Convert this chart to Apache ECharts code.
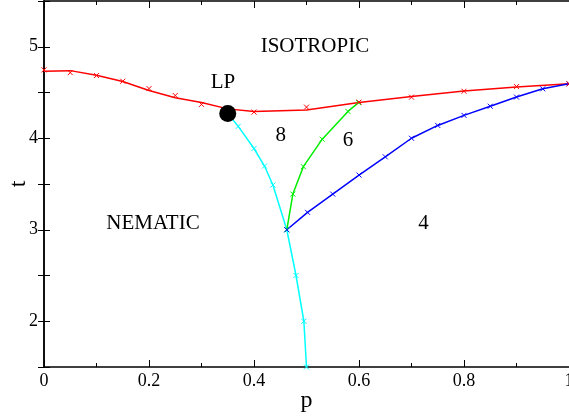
<!DOCTYPE html>
<html>
<head>
<meta charset="utf-8">
<script src="https://cdn.jsdelivr.net/npm/echarts@6/dist/echarts.min.js"></script>
<style>
  html, body { margin: 0; padding: 0; background: #fff; }
  #main { width: 569px; height: 418px; }
</style>
</head>
<body>
<div id="main"></div>
<script>
// phase boundaries, [p, t]
const redFit = [[0, 4.732], [0.05, 4.739], [0.1, 4.688], [0.15, 4.62], [0.2, 4.522], [0.25, 4.442],
  [0.3, 4.391], [0.35, 4.321], [0.4, 4.293], [0.5, 4.31], [0.6, 4.391], [0.7, 4.457],
  [0.8, 4.516], [0.9, 4.56], [1.0, 4.595]];
const redPts = [[0, 4.747], [0.05, 4.717], [0.1, 4.685], [0.15, 4.623], [0.2, 4.543], [0.25, 4.467],
  [0.3, 4.37], [0.4, 4.286], [0.5, 4.34], [0.6, 4.395], [0.7, 4.449], [0.8, 4.514],
  [0.9, 4.565], [1.0, 4.595]];
const cyanPts = [[0.35, 4.27], [0.37, 4.13], [0.4, 3.888], [0.42, 3.696], [0.436, 3.489],
  [0.4625, 3.0], [0.48, 2.5], [0.495, 2.0], [0.5, 1.5]];
const greenPts = [[0.4625, 3.0], [0.474, 3.39], [0.494, 3.69], [0.53, 3.99], [0.579, 4.293], [0.599, 4.39]];
const bluePts = [[0.4625, 3.0], [0.502, 3.19], [0.55, 3.39], [0.6, 3.598], [0.65, 3.797], [0.7, 4.0],
  [0.75, 4.14], [0.8, 4.25], [0.85, 4.35], [0.9, 4.45], [0.95, 4.54], [1.0, 4.595]];
const lpPoint = [[0.35, 4.27]];
const regionNames = ["ISOTROPIC", "LP", "8", "6", "NEMATIC", "4"];
const regionAt = [[0.516, 5.0], [0.341, 4.61], [0.451, 4.027], [0.579, 3.978], [0.2076, 3.07], [0.723, 3.07]];

const serif = "Liberation Serif";
const cross = "path://M0,0L10,10M10,0L0,10";

function curve(data, color, marks) {
  return {
    type: "line",
    data: data,
    symbol: marks ? cross : "none",
    symbolSize: 5,
    lineStyle: { color: color, width: 1.5 },
    itemStyle: { color: "transparent", borderColor: color, borderWidth: 1, opacity: 1 },
    emphasis: { disabled: true },
    silent: true,
    z: 2,
  };
}

const chart = echarts.init(document.getElementById("main"));
const option = {
  animation: false,
  grid: { left: 44, right: 0, top: 1, bottom: 51, containLabel: false, outerBoundsMode: "none" },
  xAxis: [
    {
      type: "value", min: 0, max: 1, interval: 0.2,
      name: "p", nameLocation: "middle", nameGap: 22, nameMoveOverlap: false,
      nameTextStyle: { fontFamily: serif, fontSize: 24, color: "#000" },
      axisLine: { lineStyle: { color: "#000", width: 1.5 } },
      axisTick: { inside: true, length: 7, lineStyle: { color: "#000" } },
      minorTick: { show: true, splitNumber: 2, length: 4, lineStyle: { color: "#000" } },
      axisLabel: {
        fontFamily: serif, fontSize: 18, color: "#000", margin: 5,
        formatter: (v) => String(Math.round(v * 10) / 10),
      },
      splitLine: { show: false },
    },
    {
      type: "value", min: 0, max: 1, interval: 0.2, position: "top",
      axisLine: { lineStyle: { color: "#000", width: 1.5 } },
      axisTick: { inside: true, length: 7, lineStyle: { color: "#000" } },
      minorTick: { show: true, splitNumber: 2, length: 4, lineStyle: { color: "#000" } },
      axisLabel: { show: false },
      splitLine: { show: false },
    },
  ],
  yAxis: [
    {
      type: "value", min: 1.5, max: 5.5, interval: 0.5,
      name: "t", nameLocation: "middle", nameGap: 13, nameMoveOverlap: false,
      nameTextStyle: { fontFamily: serif, fontSize: 24, color: "#000" },
      axisLine: { show: true, lineStyle: { color: "#000", width: 1.5 } },
      axisTick: { show: true, inside: true, length: 6, lineStyle: { color: "#000" } },
      axisLabel: {
        fontFamily: serif, fontSize: 18, color: "#000", margin: 6,
        formatter: (v) => (Math.abs(v - Math.round(v)) < 1e-6 ? String(Math.round(v)) : ""),
      },
      splitLine: { show: false },
    },
    {
      type: "value", min: 1.5, max: 5.5, interval: 0.5, position: "right",
      axisLine: { show: true, lineStyle: { color: "#000", width: 1.5 } },
      axisTick: { show: true, inside: true, length: 6, lineStyle: { color: "#000" } },
      axisLabel: { show: false },
      splitLine: { show: false },
    },
  ],
  series: [
    curve(redFit, "#ff0000", false),
    {
      type: "scatter", data: redPts, symbol: cross, symbolSize: 5, silent: true, z: 3,
      itemStyle: { color: "transparent", borderColor: "#ff0000", borderWidth: 1, opacity: 1 },
    },
    curve(cyanPts, "#00ffff", true),
    curve(greenPts, "#00ee00", true),
    curve(bluePts, "#0000ff", true),
    {
      type: "scatter", data: lpPoint, symbol: "circle", symbolSize: 17, silent: true, z: 5,
      itemStyle: { color: "#000", opacity: 1 },
    },
    {
      type: "scatter", silent: true, z: 6, symbolSize: 1,
      itemStyle: { color: "transparent", opacity: 1 },
      data: regionNames.map((n, i) => ({ name: n, value: regionAt[i] })),
      label: {
        show: true, position: "inside", formatter: "{b}",
        fontFamily: serif, fontSize: 21, color: "#000", opacity: 1,
      },
    },
  ],
};
chart.setOption(option);
</script>
</body>
</html>
